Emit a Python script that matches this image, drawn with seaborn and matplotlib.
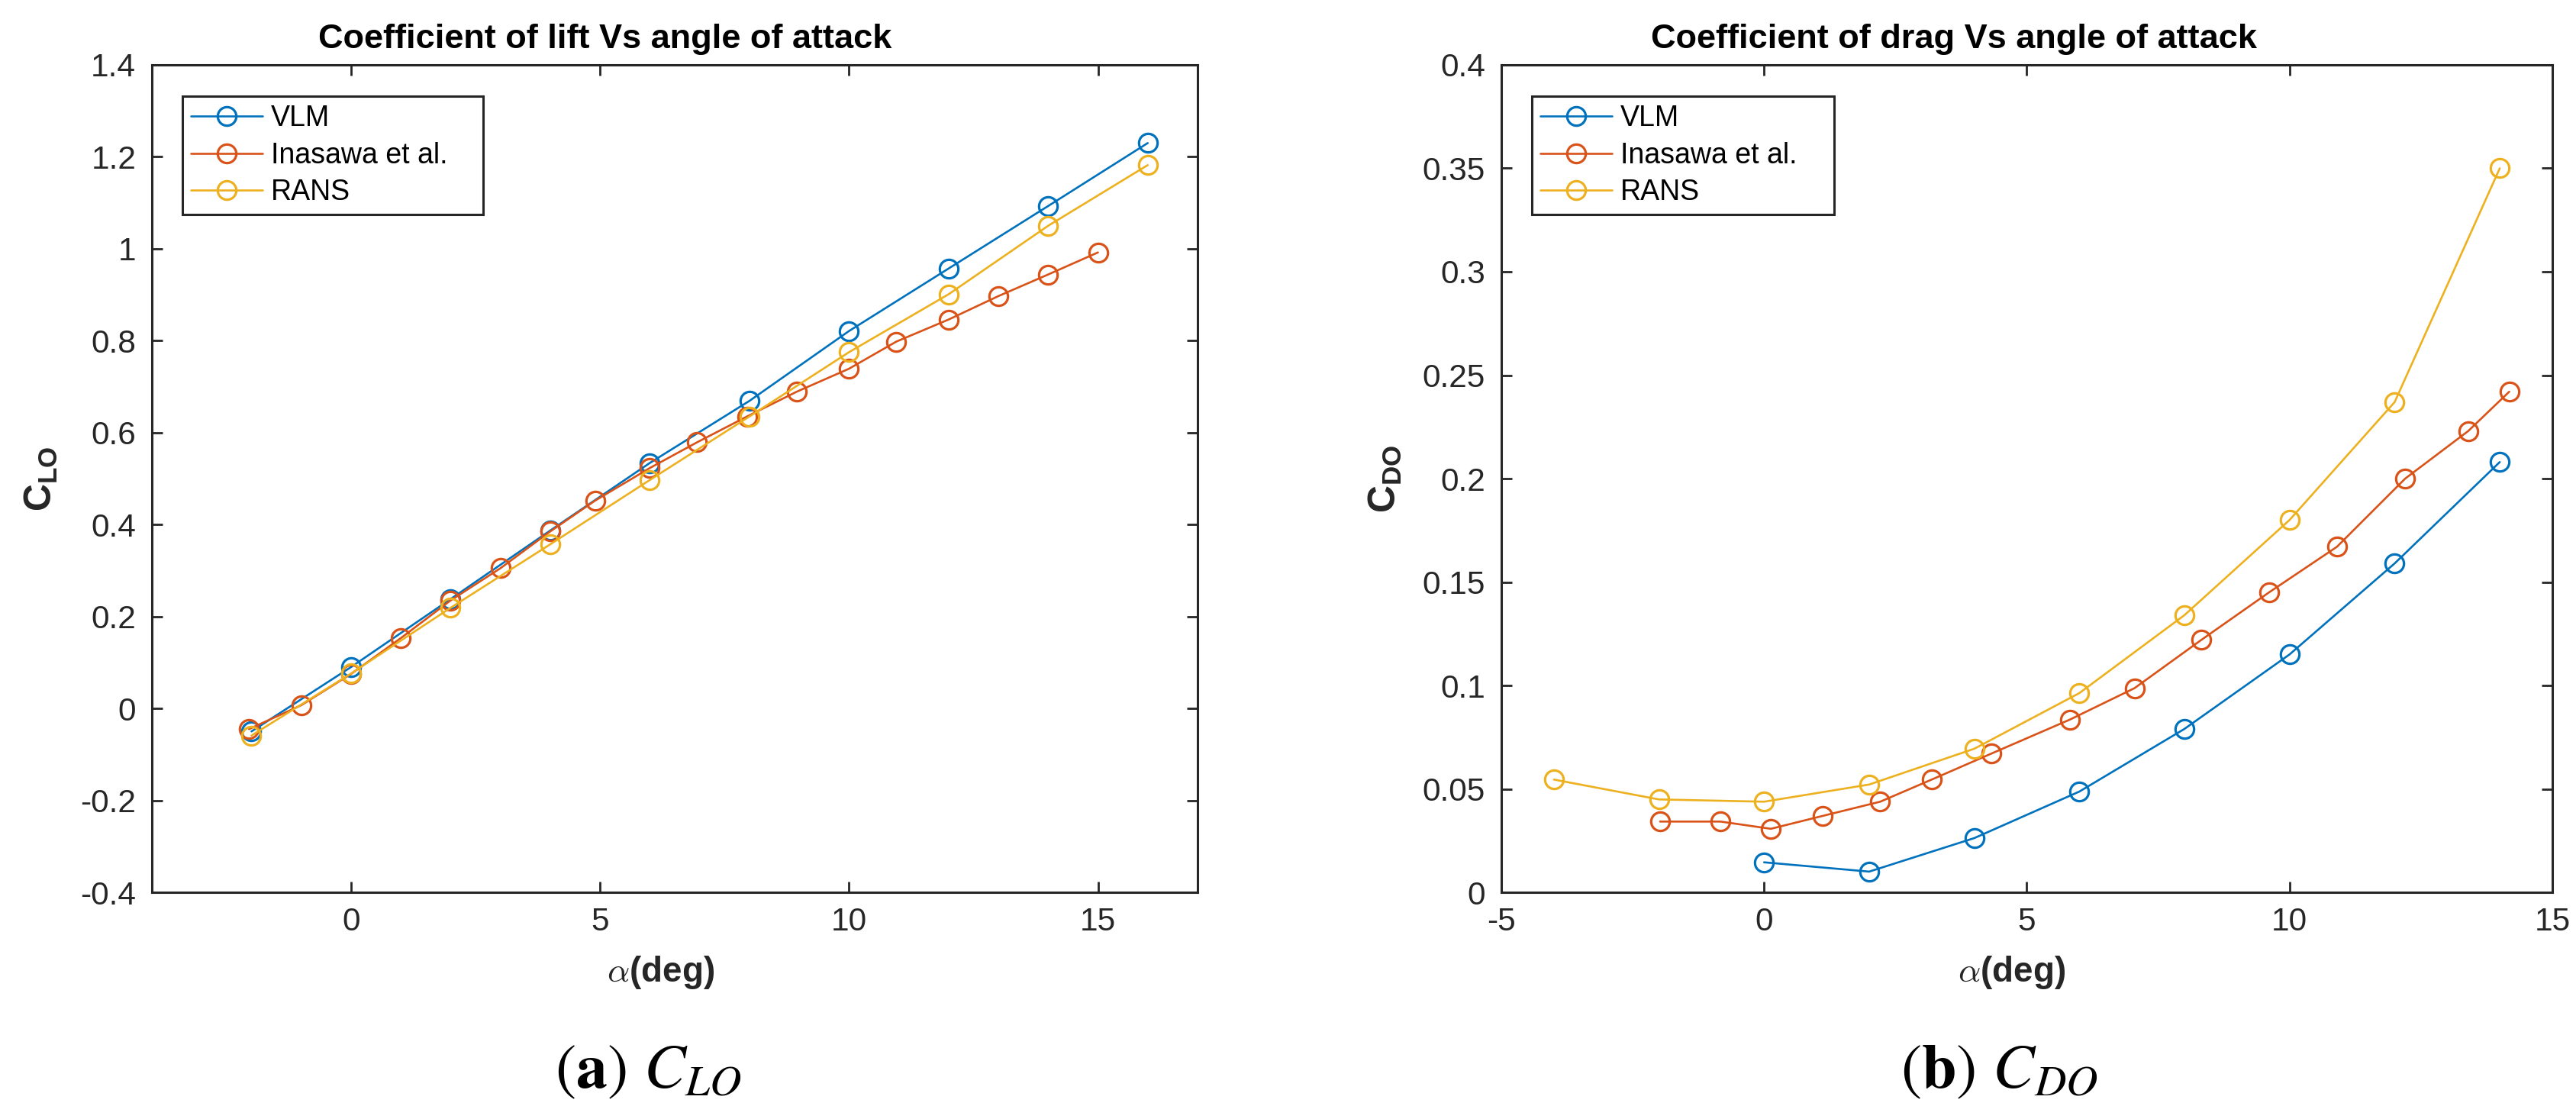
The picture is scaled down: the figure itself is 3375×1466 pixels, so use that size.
#!/usr/bin/env python3
import matplotlib
matplotlib.use("Agg")
import matplotlib.pyplot as plt
import matplotlib.ticker as mticker
import seaborn as sns
import pandas as pd

# ---- data ----
# lift coefficient vs angle of attack
vlm_alpha_l = [-2, 0, 2, 4, 6, 8, 10, 12, 14, 16]
vlm_cl = [-0.05, 0.09, 0.238, 0.387, 0.534, 0.669, 0.821, 0.957, 1.093, 1.230]
ins_alpha_l = [-2.05, -1.0, 0.0, 1.0, 2.0, 3.0, 4.0, 4.9, 6.0, 6.95, 7.95, 8.95,
               10.0, 10.95, 12.0, 13.0, 14.0, 15.0]
ins_cl = [-0.045, 0.007, 0.075, 0.153, 0.235, 0.305, 0.385, 0.452, 0.523, 0.579,
          0.635, 0.689, 0.739, 0.798, 0.846, 0.897, 0.944, 0.992]
rans_alpha_l = [-2, 0, 2, 4, 6, 8, 10, 12, 14, 16]
rans_cl = [-0.059, 0.076, 0.219, 0.357, 0.497, 0.635, 0.775, 0.901, 1.05, 1.182]

# drag coefficient vs angle of attack
vlm_alpha_d = [0, 2, 4, 6, 8, 10, 12, 14]
vlm_cd = [0.0145, 0.010, 0.0262, 0.0487, 0.079, 0.115, 0.159, 0.208]
ins_alpha_d = [-1.98, -0.83, 0.13, 1.11, 2.21, 3.19, 4.32, 5.82, 7.05, 8.32,
               9.61, 10.9, 12.2, 13.4, 14.18]
ins_cd = [0.0342, 0.0342, 0.0307, 0.0369, 0.0438, 0.0545, 0.067, 0.0835, 0.0987,
          0.122, 0.145, 0.167, 0.200, 0.223, 0.242]
rans_alpha_d = [-4, -2, 0, 2, 4, 6, 8, 10, 12, 14]
rans_cd = [0.0545, 0.0449, 0.0438, 0.0521, 0.0694, 0.0963, 0.134, 0.180, 0.237, 0.350]

series_names = ["VLM", "Inasawa et al.", "RANS"]
series_colors = ["#0072BD", "#D95319", "#EDB120"]

titles = ["Coefficient of lift Vs angle of attack",
          "Coefficient of drag Vs angle of attack"]
ylabels = [r"$\mathbf{C_{LO}}$", r"$\mathbf{C_{DO}}$"]
captions = [r"($\mathbf{a}$) $C_{LO}$", r"($\mathbf{b}$) $C_{DO}$"]
xticks_l = [0, 5, 10, 15]
yticks_l = [-0.4, -0.2, 0, 0.2, 0.4, 0.6, 0.8, 1.0, 1.2, 1.4]
xticks_d = [-5, 0, 5, 10, 15]
yticks_d = [0, 0.05, 0.1, 0.15, 0.2, 0.25, 0.3, 0.35, 0.4]


def long_frame(parts):
    rows = []
    for name, xs, ys in parts:
        for x, y in zip(xs, ys):
            rows.append({"alpha": x, "coef": y, "Source": name})
    return pd.DataFrame(rows)


df_lift = long_frame([("VLM", vlm_alpha_l, vlm_cl),
                      ("Inasawa et al.", ins_alpha_l, ins_cl),
                      ("RANS", rans_alpha_l, rans_cl)])
df_drag = long_frame([("VLM", vlm_alpha_d, vlm_cd),
                      ("Inasawa et al.", ins_alpha_d, ins_cd),
                      ("RANS", rans_alpha_d, rans_cd)])

sns.set_theme(style="ticks")
ink = "#262626"
plt.rcParams["font.family"] = ["Liberation Sans", "DejaVu Sans"]
plt.rcParams["axes.unicode_minus"] = False
plt.rcParams["mathtext.fontset"] = "custom"
plt.rcParams["mathtext.bf"] = "Liberation Sans:bold"
plt.rcParams["mathtext.rm"] = "Liberation Sans"
plt.rcParams["mathtext.it"] = "Liberation Sans:italic"

fig = plt.figure(figsize=(33.75, 14.66), dpi=100)
ax_l = fig.add_axes([0.05896, 0.20259, 0.40593, 0.73943])
ax_r = fig.add_axes([0.58281, 0.20259, 0.40800, 0.73943])

setups = [
    (ax_l, df_lift, (-4, 17), (-0.4, 1.4), xticks_l, yticks_l, 0.4336, -0.088, 0.4869),
    (ax_r, df_drag, (-5, 15), (0, 0.4), xticks_d, yticks_d, 0.4306, -0.093, 0.4858),
]

for i, (ax, df, xlim, ylim, xt, yt, title_x, ylab_x, xlab_x) in enumerate(setups):
    sns.lineplot(data=df, x="alpha", y="coef", hue="Source", hue_order=series_names,
                 palette=series_colors, marker="o", sort=False, estimator=None,
                 linewidth=1.9, markersize=17.5, legend=False, ax=ax)
    for line in ax.lines:
        c = line.get_color()
        line.set_markerfacecolor("none")
        line.set_markeredgecolor(c)
        line.set_markeredgewidth(2.3)

    ax.set_xlim(*xlim)
    ax.set_ylim(*ylim)
    ax.set_xticks(xt)
    ax.set_yticks(yt)
    fmt = mticker.FuncFormatter(lambda v, p: ("%g" % round(v, 4)))
    ax.xaxis.set_major_formatter(fmt)
    ax.yaxis.set_major_formatter(fmt)
    ax.tick_params(axis="both", which="major", direction="in", length=10, width=2,
                   color=ink, labelcolor=ink, labelsize=30.5,
                   top=True, right=True)
    ax.tick_params(axis="x", pad=14)
    ax.tick_params(axis="y", pad=15)
    for sp in ax.spines.values():
        sp.set_visible(True)
        sp.set_linewidth(2.2)
        sp.set_color(ink)

    ax.set_title(titles[i], fontsize=32.5, fontweight="bold", color="black",
                 x=title_x, pad=16)
    ax.set_ylabel(ylabels[i], fontsize=36, color=ink)
    ax.yaxis.set_label_coords(ylab_x, 0.5)
    ax.set_xlabel(r"$\alpha$(deg)", fontsize=33, fontweight="bold", color=ink,
                  math_fontfamily="cm")
    ax.xaxis.set_label_coords(xlab_x, -0.075)

    # MATLAB-style legend box: fixed width with empty space on the right
    handles = ax.lines[:3]
    leg = ax.legend(handles, series_names, loc="upper left",
                    bbox_to_anchor=(0.029, 0.0, 0.288, 0.962), mode="expand",
                    borderaxespad=0, fontsize=27, handlelength=2.5,
                    handletextpad=0.3, labelspacing=0.33, borderpad=0.3,
                    fancybox=False, framealpha=1, edgecolor=ink)
    leg.get_frame().set_linewidth(2.2)
    for t in leg.get_texts():
        t.set_color("black")

fig.text(0.2516, 0.028, captions[0], fontsize=59, ha="center", va="baseline",
         family="STIXGeneral", math_fontfamily="stix", color="black")
fig.text(0.776, 0.028, captions[1], fontsize=59, ha="center", va="baseline",
         family="STIXGeneral", math_fontfamily="stix", color="black")

fig.savefig("out.png", dpi=100, facecolor="white")
plt.close(fig)
